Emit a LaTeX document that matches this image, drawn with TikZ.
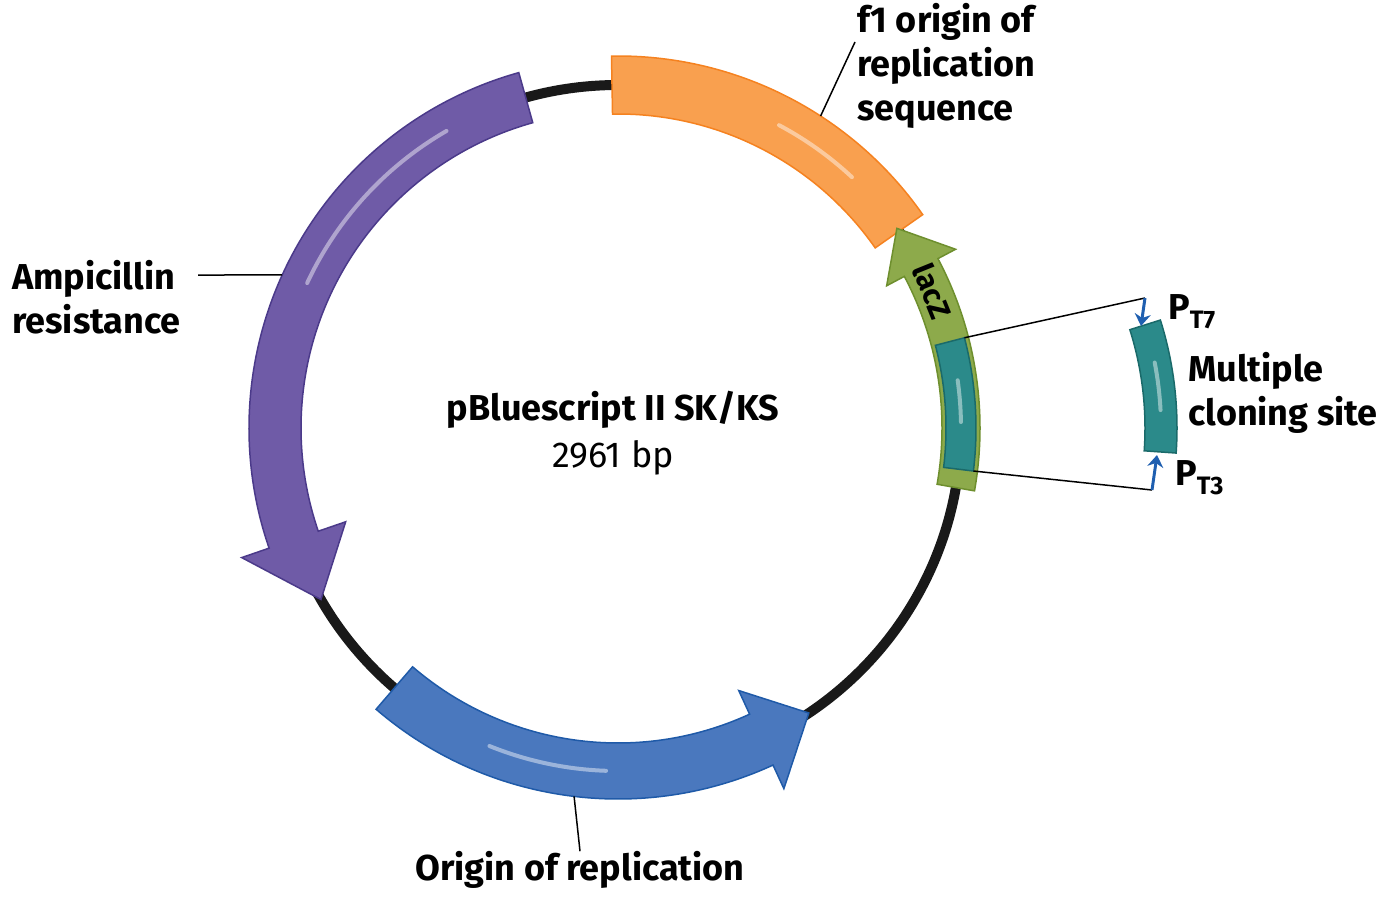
\documentclass[tikz,border=0pt]{standalone}
\usepackage{fontspec}
\usetikzlibrary{arrows.meta}
\setmainfont{Fira Sans}
\begin{document}
\newcommand\arcarrow[6]{% start, headbase, tip, halfwidth, headhalf, style
 \draw[#6] ({#1}:{\R-#4}) arc[start angle={#1},end angle={#2},radius={\R-#4}] -- ({#2}:{\R-#5}) -- ({#3}:{\R}) -- ({#2}:{\R+#5}) -- ({#2}:{\R+#4}) arc[start angle={#2},end angle={#1},radius={\R+#4}] -- cycle;}
\newcommand\arcband[4]{% start,end,halfwidth,style
 \draw[#4] ({#1}:{\R-#3}) arc[start angle={#1},end angle={#2},radius={\R-#3}] -- ({#2}:{\R+#3}) arc[start angle={#2},end angle={#1},radius={\R+#3}] -- cycle;}
\newcommand\shine[2]{\draw[white,opacity=.45,line width=4pt,line cap=round] ({#1}:{\R}) arc[start angle={#1},end angle={#2},radius={\R}];}
\def\R{343}
\begin{tikzpicture}[x=1pt,y=-1pt,
 lbl/.style={font=\bfseries\fontsize{36}{44}\selectfont,align=left,inner sep=0pt},
 lead/.style={line width=1.5pt},
 tip/.style={line width=3pt,color={rgb,255:red,31;green,95;blue,176},-{Stealth[length=12pt,width=16pt]}}]
\useasboundingbox (0,0) rectangle (1400,905);
\begin{scope}[shift={(618,428)}]
\draw[line width=10pt,black!90] (0,0) circle[radius=\R];
\arcband{269}{325}{29}{fill={rgb,255:red,249;green,160;blue,79},draw={rgb,255:red,245;green,130;blue,32},line width=1.5pt}
\shine{298}{313}
\arcarrow{254.4}{161}{150}{26}{55}{fill={rgb,255:red,111;green,91;blue,167},draw={rgb,255:red,75;green,58;blue,138},line width=1.5pt}
\shine{240}{205}
\arcarrow{130.7}{65.3}{56.2}{28}{54}{fill={rgb,255:red,74;green,120;blue,190},draw={rgb,255:red,31;green,90;blue,168},line width=1.5pt}
\shine{112}{92}
\arcarrow{10}{-27.9}{-35.6}{19}{39}{fill={rgb,255:red,141;green,170;blue,75},draw={rgb,255:red,110;green,143;blue,46},line width=1.5pt}
\arcband{-14.6}{6.9}{15}{fill={rgb,255:red,43;green,138;blue,138},draw={rgb,255:red,26;green,106;blue,106},line width=1.5pt}
\shine{-8}{-1}
\coordinate (mcsT) at ({-14.6}:{\R+15});
\coordinate (mcsB) at ({6.9}:{\R+15});
\coordinate (f1) at (-57:{\R+29});
\coordinate (amp) at (204.5:369);
\coordinate (ori) at (96.8:{\R+28});
\node[font=\bfseries\fontsize{30}{30}\selectfont,rotate=-68] (lacz) at (-23.5:\R) {lacZ};
\end{scope}
\begin{scope}[shift={(818,428)}]
\arcband{-17.5}{4}{16}{fill={rgb,255:red,43;green,138;blue,138},draw={rgb,255:red,26;green,106;blue,106},line width=1.5pt}
\shine{-11}{-3}
\end{scope}
\coordinate (c1) at (1145,298);
\coordinate (c2) at (1152,490);
\coordinate (ampE) at (198,275);
\draw[lead] (mcsT) -- (c1);
\draw[lead] (mcsB) -- (c2);
\draw[tip] (c1) -- (1141,326);
\draw[tip] (c2) -- (1157,455);
\node[lbl,anchor=west] (pt7) at (1168,312) {P\textsubscript{T7}};
\node[lbl,anchor=west] (pt3) at (1175,478) {P\textsubscript{T3}};
\node[lbl,anchor=west] (mcs) at (1188,393) {Multiple\\cloning site};
\node[lbl,anchor=north west] (f1l) at (857,3) {f1 origin of\\replication\\sequence};
\draw[lead] (f1) -- (855,42);
\node[lbl,anchor=west] (ampl) at (12,297) {Ampicillin\\resistance};
\draw[lead] (ampE) -- (amp);
\node[lbl] (oril) at (580,870) {Origin of replication};
\draw[lead] (ori) -- (oril.north);
\node[lbl] (name) at (613,410) {pBluescript II SK/KS};
\node[font=\fontsize{36}{40}\selectfont] (bp) at (613,458) {2961 bp};
\end{tikzpicture}
\end{document}
